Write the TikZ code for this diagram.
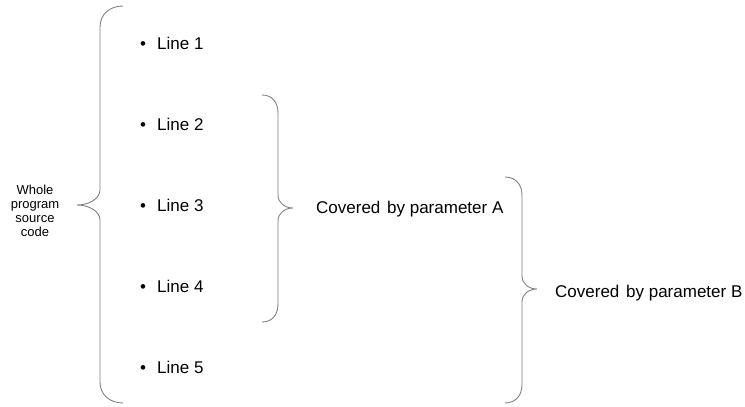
\documentclass[tikz,border=0pt]{standalone}
\usepackage{fontspec}
\setmainfont{Liberation Sans}
\begin{document}
\begin{tikzpicture}[x=1pt,y=-1pt,
  brace/.style={draw=black!50, line width=0.9pt},
  linetxt/.style={anchor=base west, inner sep=0pt, font=\fontsize{17}{20}\selectfont},
  covtxt/.style={anchor=base west, inner sep=0pt, font=\fontsize{17}{20}\selectfont},
  wholetxt/.style={align=center, inner sep=0pt, font=\fontsize{13}{14}\selectfont}]
\useasboundingbox (0,0) rectangle (745,407);
% items
\foreach \i/\yy in {1/49,2/130,3/211,4/292,5/373}{
  \node[linetxt] (bul\i) at (140,\yy) {\textbullet};
  \node[linetxt] (line\i) at (157,\yy) {Line \i};
}
% left label
\node[wholetxt, anchor=north] (whole) at (35,185) {Whole\\program\\source\\code};
% left brace
\coordinate (tipL) at (77,205);
\draw[brace] (123,6) .. controls (110,6) and (100,14) .. (100,27) -- (100,190)
  .. controls (100,198) and (90,205) .. (tipL)
  .. controls (90,205) and (100,212) .. (100,220) -- (100,382)
  .. controls (100,395) and (110,403) .. (123,403);
% brace A
\coordinate (tipA) at (293,208);
\draw[brace] (262,95) .. controls (272,95) and (278,102) .. (278,113) -- (278,195)
  .. controls (278,203) and (285,208) .. (tipA)
  .. controls (285,208) and (278,213) .. (278,221) -- (278,304)
  .. controls (278,315) and (272,322) .. (262,322);
\node[covtxt] (covA) at (316,213) {Covered\hspace{2pt} by parameter A};
% brace B
\coordinate (tipB) at (537,289);
\draw[brace] (505,177) .. controls (515,177) and (522,184) .. (522,195) -- (522,276)
  .. controls (522,284) and (529,289) .. (tipB)
  .. controls (529,289) and (522,294) .. (522,302) -- (522,385)
  .. controls (522,396) and (515,403) .. (505,403);
\node[covtxt] (covB) at (555,297) {Covered\hspace{2pt} by parameter B};
\end{tikzpicture}
\end{document}
